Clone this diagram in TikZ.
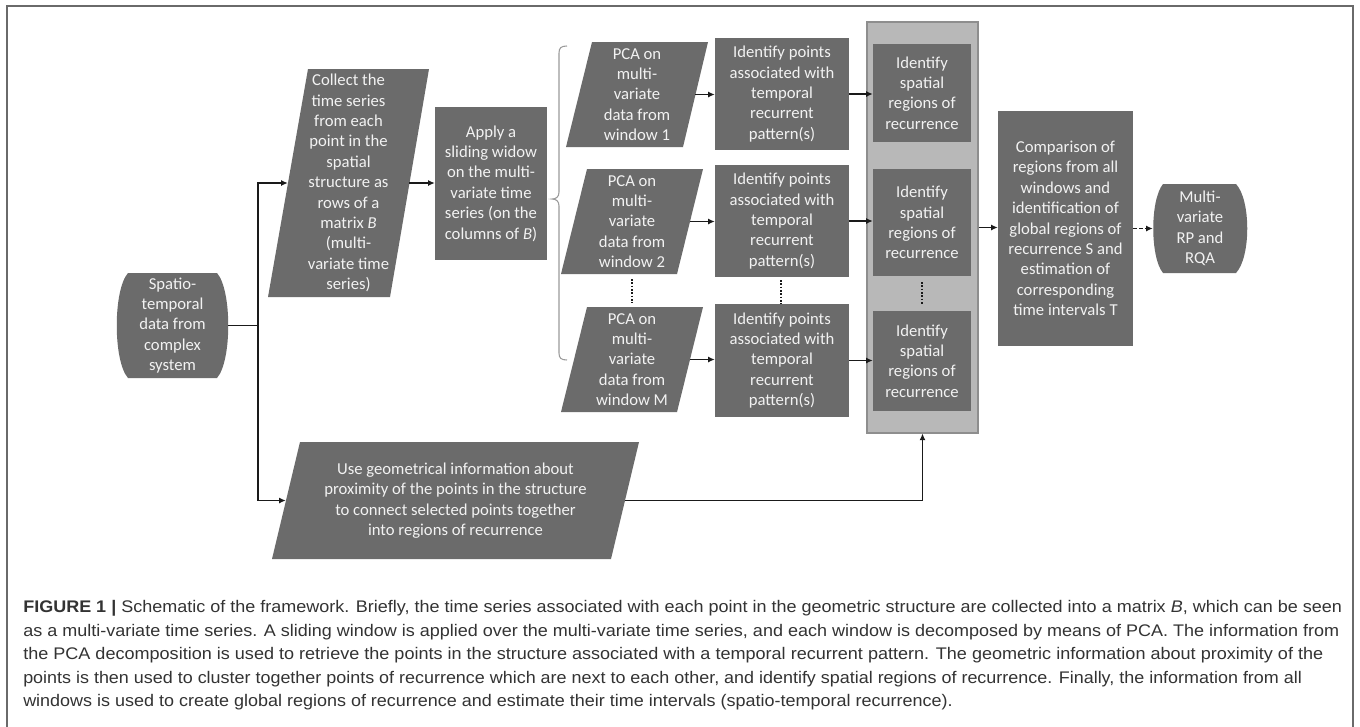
\documentclass[tikz,border=0pt]{standalone}
\usepackage{fontspec}
\usepackage{graphicx}
\setmainfont{Carlito}
\newfontfamily\capfont{Liberation Sans}
\usetikzlibrary{arrows.meta,calc}
\definecolor{boxgray}{HTML}{6B6B6B}
\definecolor{boxtext}{HTML}{F2F2F2}
\definecolor{contfill}{HTML}{B8B8B8}
\definecolor{contborder}{HTML}{8E8E8E}
\definecolor{linecol}{HTML}{1A1A1A}
\definecolor{framecol}{HTML}{6A6A6A}
\definecolor{captext}{HTML}{333333}
\definecolor{bracecol}{HTML}{9A9A9A}
\begin{document}
\begin{tikzpicture}[x=0.75pt,y=-0.75pt,
  lbl/.style={inner sep=0pt, align=center, text=boxtext, font=\fontsize{12.5pt}{15.3pt}\selectfont},
  box/.style={lbl, fill=boxgray},
  conn/.style={draw=linecol, line width=0.8pt, -{Latex[length=5pt,width=4.5pt]}},
  plain/.style={draw=linecol, line width=0.8pt},
  dots/.style={draw=linecol, line width=1.6pt, dash pattern=on 1.2pt off 1.3pt},
  capline/.style={anchor=base west, inner sep=0pt, text=captext, font=\capfont\fontsize{12.6pt}{15pt}\selectfont}
]
\useasboundingbox (0,0) rectangle (1360,726);
\fill[white] (0,0) rectangle (1360,726);
% frame
\draw[framecol, line width=1.4pt] (7,740) -- (7,6) -- (1353,6) -- (1353,740);

% Spatio-temporal terminator
\fill[boxgray] (128,273) -- (217,273) .. controls (232,290) and (232,361) .. (217,378) -- (128,378) .. controls (113,361) and (113,290) .. (128,273) -- cycle;
\node[lbl, minimum width=82.5pt, minimum height=78.75pt] (sp) at (172.5,325.5) {Spatio-\\temporal\\data from\\complex\\system};

% Collect parallelogram
\fill[boxgray] (308,69) -- (429,69) -- (390,297) -- (268,297) -- cycle;
\node[lbl, minimum width=90.75pt, minimum height=171pt] (col) at (348.5,183) {Collect the\\time series\\from each\\point in the\\spatial\\structure as\\rows of a\\matrix \textit{B}\\(multi-\\variate time\\series)};

% Apply box
\node[box, minimum width=84pt, minimum height=114.75pt] (app) at (491,183.5) {Apply a\\sliding widow\\on the multi-\\variate time\\series (on the\\columns of \textit{B})};

% brace
\draw[bracecol, line width=0.8pt] (567,46) .. controls (561,46) and (559,48) .. (559,53) -- (559,192) .. controls (559,197) and (556,199) .. (552,199) .. controls (556,199) and (559,201) .. (559,206) -- (559,353) .. controls (559,358) and (561,360) .. (567,360);

% PCA parallelograms
\fill[boxgray] (592,42) -- (708,42) -- (683,147) -- (566,147) -- cycle;
\node[lbl, minimum width=87pt, minimum height=78.75pt] (p1) at (637,94.5) {PCA on\\multi-\\variate\\data from\\window 1};
\fill[boxgray] (587,169) -- (703,169) -- (677,274) -- (561,274) -- cycle;
\node[lbl, minimum width=87pt, minimum height=78.75pt] (p2) at (632,221.5) {PCA on\\multi-\\variate\\data from\\window 2};
\fill[boxgray] (587,307) -- (703,307) -- (677,412) -- (561,412) -- cycle;
\node[lbl, minimum width=87pt, minimum height=78.75pt] (p3) at (632,359.5) {PCA on\\multi-\\variate\\data from\\window M};

% Identify points boxes
\node[box, minimum width=100.5pt, minimum height=84pt] (i1) at (782,94) {Identify points\\associated with\\temporal\\recurrent\\pattern(s)};
\node[box, minimum width=100.5pt, minimum height=84pt] (i2) at (782,221) {Identify points\\associated with\\temporal\\recurrent\\pattern(s)};
\node[box, minimum width=100.5pt, minimum height=84.75pt] (i3) at (782,360.5) {Identify points\\associated with\\temporal\\recurrent\\pattern(s)};

% container
\node[fill=contfill, draw=contborder, line width=0.8pt, inner sep=0pt, minimum width=83.25pt, minimum height=308.25pt] (cont) at (922.5,227.5) {};
\node[box, minimum width=73.5pt, minimum height=73.5pt] (s1) at (922,93) {Identify\\spatial\\regions of\\recurrence};
\node[box, minimum width=73.5pt, minimum height=80.25pt] (s2) at (922,222.5) {Identify\\spatial\\regions of\\recurrence};
\node[box, minimum width=73.5pt, minimum height=75pt] (s3) at (922,361) {Identify\\spatial\\regions of\\recurrence};

% comparison
\node[box, minimum width=101.25pt, minimum height=176.25pt] (cmp) at (1065.5,228.5) {Comparison of\\regions from all\\windows and\\identification of\\global regions of\\recurrence S and\\estimation of\\corresponding\\time intervals T};

% Multi terminator
\fill[boxgray] (1163,184) -- (1236,184) .. controls (1251,200) and (1251,257) .. (1236,273) -- (1163,273) .. controls (1150,257) and (1150,200) .. (1163,184) -- cycle;
\node[lbl, minimum width=70.5pt, minimum height=66.75pt] (mv) at (1200,228.5) {Multi-\\variate\\RP and\\RQA};

% Use geometrical parallelogram
\fill[boxgray] (300,442) -- (639,442) -- (611,559) -- (272,559) -- cycle;
\node[lbl, minimum width=254.25pt, minimum height=87.75pt] (use) at (455.5,500.5) {Use geometrical information about\\proximity of the points in the structure\\to connect selected points together\\into regions of recurrence};

% dotted continuations
\draw[dots] (632,279) -- (632,303);
\draw[dots] (781,280) -- (781,304);
\draw[dots] (922,282) -- (922,304);

% connectors
\coordinate (j) at (258,325.5);
\draw[plain, line width=1.2pt] (sp.east) -- (j);
\draw[conn] (j) |- (col.west);
\draw[conn] (j) |- (use.west);
\draw[conn] (col.east) -- (col.east -| app.west);
\draw[conn] (p1.east) -- (p1.east -| i1.west);
\draw[conn] (p2.east) -- (p2.east -| i2.west);
\draw[conn] (p3.east) -- (p3.east -| i3.west);
\draw[conn] (i1.east) -- (i1.east -| s1.west);
\draw[conn] (i2.east) -- (i2.east -| s2.west);
\draw[conn] (i3.east) -- (i3.east -| s3.west);
\draw[conn] (cont.east) -- (cont.east -| cmp.west);
\draw[conn, dashed, dash pattern=on 2.5pt off 2pt] (cmp.east) -- (cmp.east -| mv.west);
\draw[conn] (use.east) -| (cont.south);

% caption
\node[capline] (c1) at (23,612.5) {\resizebox{989pt}{\height}{{\bfseries FIGURE 1 |} Schematic of the framework. Briefly, the time series associated with each point in the geometric structure are collected into a matrix \textit{B}, which can be seen}};
\node[capline] (c2) at (23,636) {\resizebox{987pt}{\height}{as a multi-variate time series. A sliding window is applied over the multi-variate time series, and each window is decomposed by means of PCA. The information from}};
\node[capline] (c3) at (23,659.5) {\resizebox{975pt}{\height}{the PCA decomposition is used to retrieve the points in the structure associated with a temporal recurrent pattern. The geometric information about proximity of the}};
\node[capline] (c4) at (23,683) {\resizebox{959pt}{\height}{points is then used to cluster together points of recurrence which are next to each other, and identify spatial regions of recurrence. Finally, the information from all}};
\node[capline] (c5) at (23,706.5) {\resizebox{697pt}{\height}{windows is used to create global regions of recurrence and estimate their time intervals (spatio-temporal recurrence).}};
\end{tikzpicture}
\end{document}
